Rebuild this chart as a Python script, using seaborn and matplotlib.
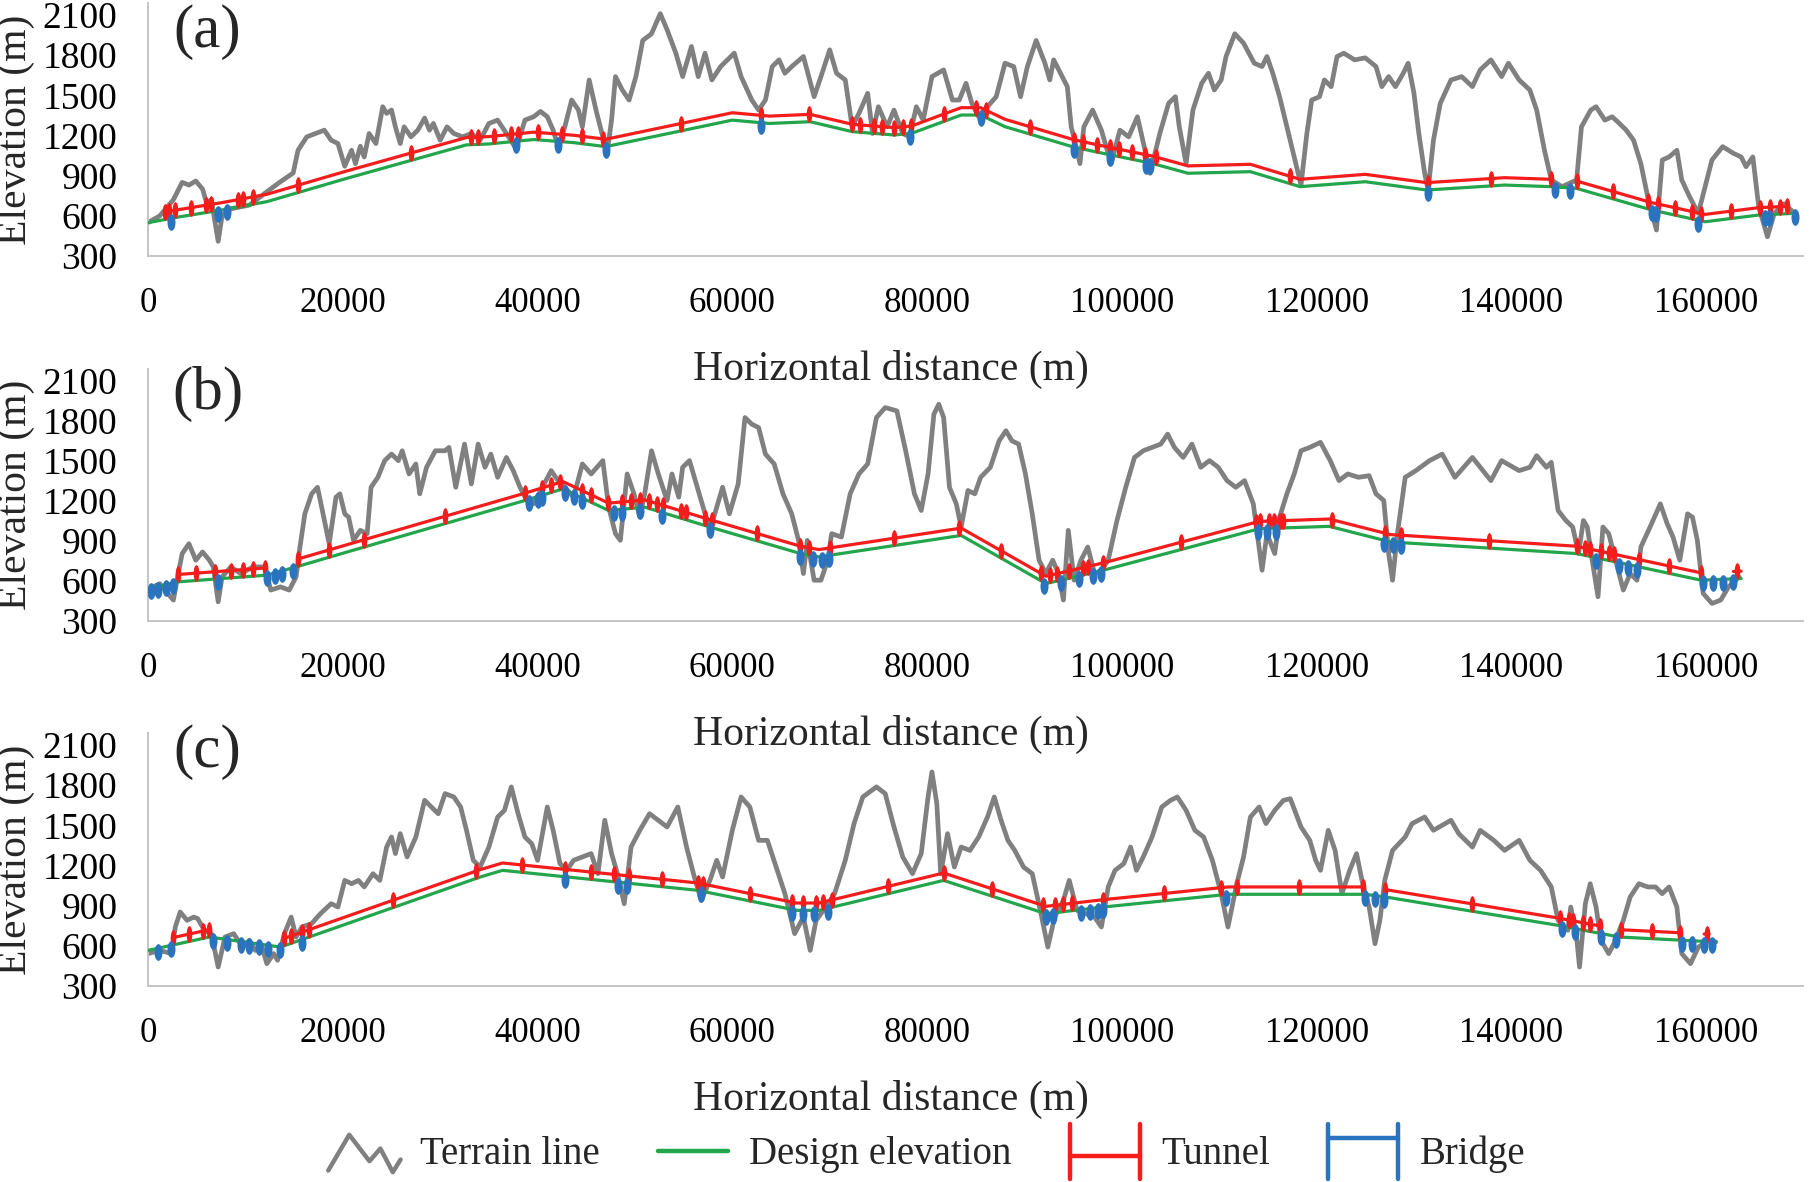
import numpy as np
import matplotlib
matplotlib.use("Agg")
import matplotlib.pyplot as plt
import seaborn as sns
from matplotlib.lines import Line2D
from matplotlib.path import Path
from matplotlib.legend_handler import HandlerBase

# ---------------- panel (a) ----------------
terrain_a = [(0, 550), (1200, 600), (2600, 720), (3500, 850), (4200, 830), (4900, 860), (5600, 800), (6000, 700),
             (6500, 720), (7200, 410), (7600, 600), (8300, 650), (10400, 680), (12200, 780), (13600, 855), (14900, 920),
             (15400, 1090), (16300, 1190), (17200, 1215), (18100, 1240), (18800, 1165), (19500, 1140), (20200, 970),
             (20900, 1090), (21300, 990), (21800, 1120), (22200, 1040), (22700, 1215), (23400, 1140), (24100, 1415),
             (24500, 1365), (25000, 1390), (25400, 1265), (25900, 1140), (26300, 1265), (27000, 1190), (27700, 1240),
             (28400, 1330), (28900, 1240), (29300, 1290), (30000, 1165), (30700, 1265), (31400, 1215), (32300, 1190),
             (33200, 1215), (34100, 1165), (35000, 1290), (35900, 1315), (36800, 1215), (37800, 1100), (38700, 1315),
             (39600, 1340), (40300, 1380), (41000, 1340), (41600, 1240), (42100, 1117), (42800, 1265), (43500, 1465),
             (44200, 1390), (44600, 1265), (45300, 1615), (46000, 1390), (46700, 1190), (47100, 1050), (47600, 1315),
             (48000, 1640), (48700, 1540), (49400, 1465), (50100, 1640), (50800, 1910), (51700, 1960), (52600, 2110),
             (53300, 1990), (54200, 1815), (54900, 1640), (55800, 1865), (56500, 1640), (57200, 1815), (57900, 1615),
             (58800, 1715), (59500, 1765), (60200, 1815), (60900, 1640), (62000, 1465), (62700, 1390), (63400, 1465),
             (64100, 1715), (64800, 1765), (65400, 1665), (66100, 1715), (67300, 1790), (68400, 1490), (69100, 1640),
             (70000, 1840), (70700, 1665), (71600, 1615), (72300, 1265), (73000, 1365), (73900, 1515), (74400, 1215),
             (75000, 1415), (75900, 1265), (76600, 1390), (77500, 1215), (78200, 1190), (78900, 1415), (79600, 1315),
             (80500, 1640), (81700, 1690), (82600, 1465), (83300, 1465), (84000, 1590), (84600, 1440), (85300, 1340),
             (86200, 1415), (87100, 1490), (88000, 1740), (88900, 1715), (89600, 1490), (90300, 1715), (91200, 1910),
             (92100, 1740), (92600, 1615), (93000, 1765), (93700, 1665), (94400, 1565), (94800, 1265), (95300, 1117),
             (95700, 990), (96100, 1265), (97000, 1390), (97900, 1240), (98900, 990), (99800, 1240), (100700, 1190),
             (101600, 1340), (102300, 1117), (102900, 918), (103900, 1215), (104800, 1440), (105500, 1490),
             (105900, 1265), (106600, 990), (107300, 1390), (108200, 1590), (108900, 1665), (109500, 1540),
             (110200, 1615), (110700, 1790), (111600, 1960), (112500, 1890), (113600, 1740), (114400, 1715),
             (114900, 1790), (115500, 1665), (116200, 1490), (116950, 1265), (117700, 1040), (118400, 830),
             (119000, 1215), (119500, 1465), (120300, 1490), (120800, 1615), (121500, 1565), (122100, 1790),
             (122800, 1815), (123900, 1765), (125000, 1780), (126100, 1715), (126700, 1565), (127400, 1640),
             (128100, 1565), (128900, 1665), (129400, 1740), (130000, 1515), (130500, 1215), (131100, 918),
             (131450, 790), (132000, 1165), (132700, 1440), (133800, 1615), (134900, 1640), (136000, 1565),
             (136800, 1690), (137900, 1765), (139000, 1640), (139700, 1740), (140800, 1615), (141900, 1540),
             (142600, 1390), (143400, 1090), (144100, 868), (145200, 818), (146700, 868), (147200, 1265),
             (148150, 1390), (148700, 1415), (149600, 1315), (150350, 1340), (151100, 1290), (151800, 1240),
             (152550, 1165), (153300, 990), (154000, 743), (154900, 494), (155500, 1017), (156200, 1040),
             (157000, 1090), (157500, 868), (158300, 743), (159200, 619), (159900, 818), (160600, 1017),
             (161700, 1117), (162800, 1067), (163600, 1040), (164100, 967), (164800, 1040), (165400, 669),
             (166300, 444), (167000, 619), (168000, 690), (169100, 619)]
design_a = [(0, 549), (3000, 590), (7600, 644), (12200, 706), (20400, 880), (32700, 1130), (35000, 1137),
            (39600, 1170), (43700, 1147), (47000, 1117), (60000, 1315), (63800, 1290), (68000, 1303), (72300, 1229),
            (76600, 1204), (78400, 1216), (83500, 1353), (85500, 1353), (88000, 1266), (94900, 1117), (97200, 1080),
            (103100, 992), (106800, 918), (113200, 930), (118300, 818), (125000, 855), (131300, 793), (139300, 830),
            (144100, 818), (146700, 805), (154400, 644), (159900, 556), (165400, 606), (169100, 619)]
tunnels_a = [(1700, 144100), (146700, 168300)]
tunnel_marks_a = [1700, 2200, 2800, 4400, 6000, 6500, 9200, 9700, 10800, 15400, 27000, 33200, 33900, 35500, 37300,
                  38000, 40000, 42500, 44600, 46700, 54700, 62900, 67900, 72300, 73100, 74500, 75400, 76600, 77500,
                  78300, 81700, 85000, 86000, 90600, 95100, 96000, 97400, 98800, 99700, 101000, 102400, 103500,
                  117300, 131450, 137900, 144100, 146700, 150400, 154000, 155100, 156800, 158600, 159500, 162600,
                  165500, 166600, 167600, 168300]
bridges_a = [2400, 7200, 8100, 37800, 42100, 47000, 62900, 78200, 85500, 95100, 98800, 102500, 102900, 131450,
             144500, 146000, 154400, 154900, 159200, 166000, 166500, 169100]

# ---------------- panel (b) ----------------
terrain_b = [(0, 540), (1200, 580), (2600, 457), (3100, 656), (3500, 805), (4200, 880), (4900, 756), (5600, 818),
             (6300, 756), (6700, 706), (7200, 444), (7600, 631), (8500, 706), (9500, 656), (10800, 706), (12000, 706),
             (12600, 532), (13600, 556), (14500, 532), (15200, 631), (15600, 855), (16100, 1104), (16800, 1254),
             (17400, 1303), (17900, 1129), (18600, 880), (19300, 1229), (19700, 1254), (20200, 1104), (20600, 1079),
             (21100, 905), (21800, 980), (22500, 955), (22900, 1303), (23600, 1378), (24300, 1503), (25000, 1552),
             (25700, 1503), (26100, 1577), (26800, 1403), (27500, 1478), (27900, 1254), (28600, 1453), (29500, 1577),
             (30500, 1577), (30900, 1602), (31600, 1303), (32500, 1627), (33200, 1328), (33900, 1627), (34600, 1453),
             (35200, 1552), (35900, 1378), (36800, 1527), (37500, 1428), (38200, 1303), (38900, 1204), (39600, 1179),
             (40500, 1303), (41400, 1428), (42100, 1353), (42800, 1303), (43700, 1229), (44600, 1478), (45500, 1403),
             (46700, 1503), (47300, 1154), (48000, 955), (48500, 905), (49200, 1403), (49900, 1254), (50500, 1079),
             (51000, 1254), (51700, 1577), (52400, 1403), (53300, 1204), (53800, 1403), (54500, 1229), (54900, 1453),
             (55600, 1503), (56300, 1328), (57000, 1154), (57700, 980), (58400, 1154), (59000, 1303), (59700, 1104),
             (60600, 1328), (61300, 1826), (62000, 1776), (62700, 1751), (63400, 1552), (64300, 1478), (65200, 1254),
             (66100, 1104), (66800, 905), (67300, 656), (67700, 905), (68400, 606), (69100, 606), (69800, 756),
             (70200, 955), (71200, 930), (72100, 1254), (73000, 1403), (73900, 1478), (74800, 1826), (75700, 1901),
             (76900, 1876), (77800, 1577), (78700, 1254), (79400, 1129), (80100, 1403), (80700, 1851), (81200, 1926),
             (81700, 1826), (82300, 1303), (83000, 1179), (83500, 1005), (84200, 1279), (84900, 1254), (85500, 1378),
             (86500, 1453), (87400, 1652), (88100, 1727), (88700, 1652), (89400, 1627), (90100, 1403), (90800, 1104),
             (91500, 756), (92200, 656), (92900, 756), (93500, 656), (94000, 457), (94500, 980), (95100, 606),
             (95800, 756), (96500, 855), (97200, 656), (97900, 681), (98600, 756), (99500, 1054), (100400, 1303),
             (101300, 1527), (102200, 1577), (103100, 1602), (104000, 1627), (104700, 1702), (105400, 1602),
             (106300, 1527), (107200, 1627), (108100, 1453), (109000, 1503), (109900, 1453), (110800, 1353),
             (111700, 1303), (112600, 1353), (113500, 1179), (114400, 681), (114900, 955), (115700, 806),
             (116200, 1079), (116950, 1254), (117700, 1403), (118400, 1577), (119300, 1602), (120400, 1640),
             (121400, 1503), (122300, 1353), (123200, 1403), (124300, 1378), (125400, 1390), (126100, 1254),
             (126900, 1204), (127400, 806), (127800, 606), (128300, 955), (129100, 1378), (130200, 1428),
             (131600, 1503), (132900, 1552), (134200, 1378), (136000, 1527), (137900, 1353), (139000, 1503),
             (140800, 1428), (141900, 1453), (142600, 1540), (143600, 1453), (144100, 1490), (144800, 1129),
             (145600, 1054), (146300, 1005), (146900, 806), (147400, 1054), (147800, 1005), (148300, 756),
             (148900, 482), (149400, 1005), (150000, 955), (150700, 756), (151500, 532), (152200, 656),
             (152900, 606), (153300, 855), (154400, 1030), (155300, 1179), (156000, 1030), (156600, 930),
             (157300, 756), (158100, 1104), (158600, 1079), (159100, 905), (159700, 507), (160600, 432),
             (161500, 457), (162300, 556), (163400, 631)]
design_b = [(0, 544), (3100, 594), (12200, 644), (15200, 706), (22200, 855), (38700, 1204), (42600, 1291),
            (47300, 1129), (51000, 1154), (57700, 1005), (67000, 806), (68900, 781), (83500, 942), (92200, 581),
            (98100, 681), (114100, 992), (121300, 1010), (127600, 893), (146700, 806), (159500, 606), (163600, 619)]
tunnels_b = [(3100, 12000), (15400, 159500), (162800, 163600)]
tunnel_marks_b = [3100, 4900, 6900, 8500, 9700, 10800, 12000, 15400, 18600, 22200, 30500, 38700, 40500, 41400,
                  42300, 44600, 45500, 47200, 48700, 49600, 50500, 51400, 52300, 52900, 54700, 55200, 57200, 57900,
                  62500, 67000, 67900, 70000, 76600, 83300, 87600, 91700, 92600, 93300, 94600, 96000, 96500, 98100,
                  106100, 113800, 114200, 115100, 115600, 116200, 116500, 121600, 127000, 128700, 137700, 146700,
                  147600, 148100, 149200, 150000, 150500, 153100, 156200, 159500, 163200]
bridges_b = [300, 1000, 1800, 2600, 7200, 12200, 13000, 13800, 14900, 39100, 40000, 40500, 42800, 43700, 44600,
             47900, 48700, 50500, 52800, 57700, 67000, 68300, 69200, 69900, 92000, 93800, 95600, 97000, 97900,
             114000, 114900, 115800, 126900, 127800, 128700, 148700, 151100, 152000, 152900, 159700, 160700,
             161700, 162800]

# ---------------- panel (c) ----------------
terrain_c = [(0, 542), (1200, 566), (2400, 542), (2800, 741), (3300, 853), (4000, 791), (4700, 815), (5100, 803),
             (5800, 716), (6500, 691), (7200, 442), (7900, 666), (8800, 691), (9700, 591), (10400, 641), (11000, 566),
             (11700, 591), (12200, 467), (12900, 542), (13300, 492), (14000, 691), (14700, 815), (15200, 666),
             (15800, 741), (16800, 766), (17700, 840), (18800, 915), (19500, 890), (20200, 1089), (20900, 1064),
             (21600, 1089), (22200, 1040), (23100, 1139), (23800, 1089), (24500, 1338), (25000, 1413), (25400, 1289),
             (25900, 1438), (26600, 1264), (27500, 1413), (28400, 1687), (29100, 1637), (29800, 1587), (30500, 1737),
             (31400, 1712), (32100, 1637), (32700, 1463), (33400, 1239), (34100, 1189), (35000, 1338), (35900, 1562),
             (36600, 1612), (37300, 1787), (38000, 1587), (38700, 1413), (39400, 1363), (40000, 1239), (41000, 1637),
             (41600, 1463), (42300, 1214), (43000, 1164), (43700, 1239), (44600, 1264), (45500, 1289), (46200, 1139),
             (46900, 1538), (47600, 1289), (48200, 1139), (48900, 915), (49600, 1338), (50500, 1463), (51500, 1587),
             (52400, 1538), (53300, 1488), (54400, 1637), (55300, 1338), (56100, 1114), (56800, 940), (57700, 1089),
             (58400, 1239), (59000, 1114), (60000, 1463), (60900, 1712), (61800, 1637), (62700, 1388), (63600, 1388),
             (64500, 1189), (65400, 990), (66400, 691), (67300, 815), (68000, 566), (68600, 791), (69600, 890),
             (70500, 990), (71600, 1239), (72500, 1513), (73400, 1712), (74800, 1787), (75700, 1737), (76600, 1488),
             (77500, 1264), (78500, 1139), (79400, 1289), (80100, 1712), (80500, 1899), (81000, 1662), (81400, 1139),
             (82100, 1438), (82800, 1189), (83500, 1338), (84400, 1313), (85300, 1413), (86200, 1562), (86900, 1712),
             (87600, 1538), (88300, 1388), (89000, 1313), (89900, 1189), (90800, 1139), (91700, 840), (92400, 591),
             (93100, 815), (94000, 940), (94600, 1089), (95400, 865), (96300, 840), (97200, 815), (97900, 741),
             (98600, 1040), (99300, 1164), (100200, 1214), (100900, 1338), (101500, 1164), (102200, 1264),
             (103100, 1413), (104100, 1637), (105000, 1687), (105700, 1712), (106600, 1612), (107500, 1463),
             (108400, 1413), (109300, 1239), (110200, 990), (110900, 741), (111800, 1064), (112500, 1264),
             (113200, 1562), (114100, 1637), (114800, 1513), (115700, 1612), (116600, 1687), (117300, 1699),
             (118400, 1488), (119300, 1388), (119900, 1239), (120400, 1164), (121200, 1463), (121900, 1313),
             (122600, 990), (123400, 1164), (124100, 1289), (124800, 1040), (125400, 890), (126000, 616),
             (126500, 791), (127000, 1089), (127800, 1313), (129100, 1413), (129800, 1513), (131100, 1562),
             (132000, 1463), (133800, 1538), (134600, 1438), (136000, 1338), (136800, 1463), (138200, 1388),
             (139300, 1313), (140800, 1388), (141900, 1239), (143000, 1164), (144100, 1040), (144800, 791),
             (145800, 716), (146100, 890), (146700, 666), (147000, 442), (147600, 915), (148100, 1064),
             (148700, 890), (149200, 641), (150000, 542), (150700, 641), (151500, 791), (152200, 965),
             (153100, 1064), (154000, 1040), (154800, 1040), (155500, 990), (156200, 1040), (157000, 890),
             (157500, 542), (158400, 467), (159200, 591), (160300, 641), (161000, 629)]
design_c = [(0, 566), (6300, 666), (13600, 591), (34100, 1114), (36400, 1164), (56400, 1015), (66600, 865),
            (68900, 865), (81700, 1089), (92200, 840), (98100, 890), (110900, 985), (125000, 985), (127500, 960),
            (144800, 753), (151100, 666), (161000, 629)]
tunnels_c = [(2600, 6300), (14000, 124800), (127000, 149100), (151300, 157300), (159800, 160300)]
tunnel_marks_c = [2600, 4200, 5600, 6300, 14000, 14700, 15800, 16500, 25200, 33700, 38400, 42800, 45500, 47800,
                  49400, 52800, 56500, 57000, 61800, 66100, 67300, 68600, 69300, 70200, 76000, 81700, 86700, 91900,
                  93100, 94000, 94900, 98100, 104300, 110200, 111800, 118200, 124800, 127000, 136000, 145000,
                  145900, 146300, 147400, 148100, 149100, 151300, 154400, 157300, 160100]
bridges_c = [1000, 2400, 6700, 8100, 9500, 10400, 11400, 12300, 13600, 15800, 42800, 48300, 49200, 56800, 66100,
             67300, 68400, 69800, 92200, 92900, 95800, 96700, 97600, 98100, 110700, 125000, 126000, 126900, 145200,
             146500, 149200, 150700, 157500, 158600, 159800, 160600]

panel_tags = ["(a)", "(b)", "(c)"]
y_ticks = [300, 600, 900, 1200, 1500, 1800, 2100]
x_ticks = [0, 20000, 40000, 60000, 80000, 100000, 120000, 140000, 160000]
legend_labels = ["Terrain line", "Design elevation", "Tunnel", "Bridge"]

GRAY = "#808080"
GREEN = "#22a54b"
RED = "#f51c1c"
BLUE = "#2a74bf"
SPINE = "#c4c4c4"
SERIF = ["Liberation Serif", "DejaVu Serif"]

sns.set_theme(style="white")
plt.rcParams["font.family"] = SERIF

# slim vertical ellipses used for the tunnel / bridge markers
circ = Path.unit_circle()
tick_mark = Path(circ.vertices * [0.34, 1.0], circ.codes)
bridge_mark = Path(circ.vertices * [0.48, 1.0], circ.codes)

fig = plt.figure(figsize=(18.1, 11.82), dpi=100)

axes_boxes = [[0.0818, 0.7834, 0.9146, 0.2141],
              [0.0818, 0.4746, 0.9146, 0.2132],
              [0.0818, 0.1658, 0.9146, 0.2141]]
tag_y = [0.885, 0.90, 0.925]

panels = [(terrain_a, design_a, tunnels_a, tunnel_marks_a, bridges_a),
          (terrain_b, design_b, tunnels_b, tunnel_marks_b, bridges_b),
          (terrain_c, design_c, tunnels_c, tunnel_marks_c, bridges_c)]

for i, (terrain, design, tunnels, tmarks, bridges) in enumerate(panels):
    ax = fig.add_axes(axes_boxes[i])
    ax.set_facecolor("none")
    tx, ty = zip(*terrain)
    dx, dy = (np.array(v, dtype=float) for v in zip(*design))

    sns.lineplot(x=list(tx), y=list(ty), ax=ax, color=GRAY, lw=3.4, sort=False, estimator=None, zorder=2)
    sns.lineplot(x=dx, y=dy, ax=ax, color=GREEN, lw=2.3, sort=False, estimator=None, zorder=3)

    # tunnels drawn a little above the design line
    for s, e in tunnels:
        xs = np.concatenate([[s], dx[(dx > s) & (dx < e)], [e]])
        ax.plot(xs, np.interp(xs, dx, dy) + 55, color=RED, lw=2.3, zorder=4)
    tm = np.array(tmarks, dtype=float)
    ax.plot(tm, np.interp(tm, dx, dy) + 55, ls="none", marker=tick_mark, ms=12, mew=0, color=RED, zorder=5)
    # bridges just under it
    bm = np.array(bridges, dtype=float)
    ax.plot(bm, np.interp(bm, dx, dy) - 25, ls="none", marker=bridge_mark, ms=12, mew=0, color=BLUE, zorder=6)

    ax.set_xlim(0, 170000)
    ax.set_ylim(300, 2190)
    ax.set_xticks(x_ticks)
    ax.set_yticks(y_ticks)
    ax.set_xticklabels([str(v) for v in x_ticks])
    ax.tick_params(axis="x", direction="in", length=9, width=1.2, color=SPINE, pad=22, labelsize=25)
    ax.tick_params(axis="y", direction="in", length=5, width=1.2, color=SPINE, pad=22, labelsize=27)
    ax.tick_params(labelcolor="black")
    for lbl in ax.get_xticklabels() + ax.get_yticklabels():
        lbl.set_fontfamily(SERIF)
    for side in ["top", "right"]:
        ax.spines[side].set_visible(False)
    for side in ["left", "bottom"]:
        ax.spines[side].set_color(SPINE)
        ax.spines[side].set_linewidth(1.4)

    ax.set_ylabel("Elevation (m)", fontsize=30, family=SERIF)
    ax.yaxis.set_label_coords(-0.068, 0.5)
    ax.set_xlabel("Horizontal distance (m)", fontsize=30, family=SERIF)
    ax.xaxis.set_label_coords(0.449, -0.372)
    ax.text(0.036, tag_y[i], panel_tags[i], transform=ax.transAxes, fontsize=44, ha="center", va="center",
            family=SERIF)


class ShapeHandler(HandlerBase):
    def __init__(self, paths, color, lw):
        super().__init__()
        self.paths = paths
        self.color = color
        self.lw = lw

    def create_artists(self, legend, orig_handle, xdescent, ydescent, width, height, fontsize, trans):
        arts = []
        for px, py in self.paths:
            x = [-xdescent + v * width for v in px]
            y = [-ydescent + v * height for v in py]
            arts.append(Line2D(x, y, color=self.color, lw=self.lw, transform=trans,
                               solid_joinstyle="round", solid_capstyle="round"))
        return arts


h_terrain = Line2D([], [], color=GRAY)
h_design = Line2D([], [], color=GREEN)
h_tunnel = Line2D([], [], color=RED)
h_bridge = Line2D([], [], color=BLUE)

handler_map = {
    h_terrain: ShapeHandler([([0.05, 0.32, 0.58, 0.72, 0.88, 0.98], [0.15, 0.8, 0.32, 0.55, 0.12, 0.35])], GRAY, 3.2),
    h_design: ShapeHandler([([0.05, 0.95], [0.5, 0.5])], GREEN, 3.2),
    h_tunnel: ShapeHandler([([0.05, 0.05], [0.0, 1.0]), ([0.95, 0.95], [0.0, 1.0]),
                            ([0.05, 0.95], [0.42, 0.42])], RED, 3.2),
    h_bridge: ShapeHandler([([0.05, 0.05], [0.0, 1.0]), ([0.95, 0.95], [0.0, 1.0]),
                            ([0.05, 0.95], [0.75, 0.75])], BLUE, 3.2),
}

leg = fig.legend([h_terrain, h_design, h_tunnel, h_bridge], legend_labels, handler_map=handler_map,
                 loc="center", bbox_to_anchor=(0.511, 0.026), ncol=4, frameon=False,
                 prop={"family": SERIF, "size": 28},
                 handlelength=2.0, handleheight=1.8, handletextpad=0.45, columnspacing=1.4)

fig.savefig("out.png", dpi=100)
